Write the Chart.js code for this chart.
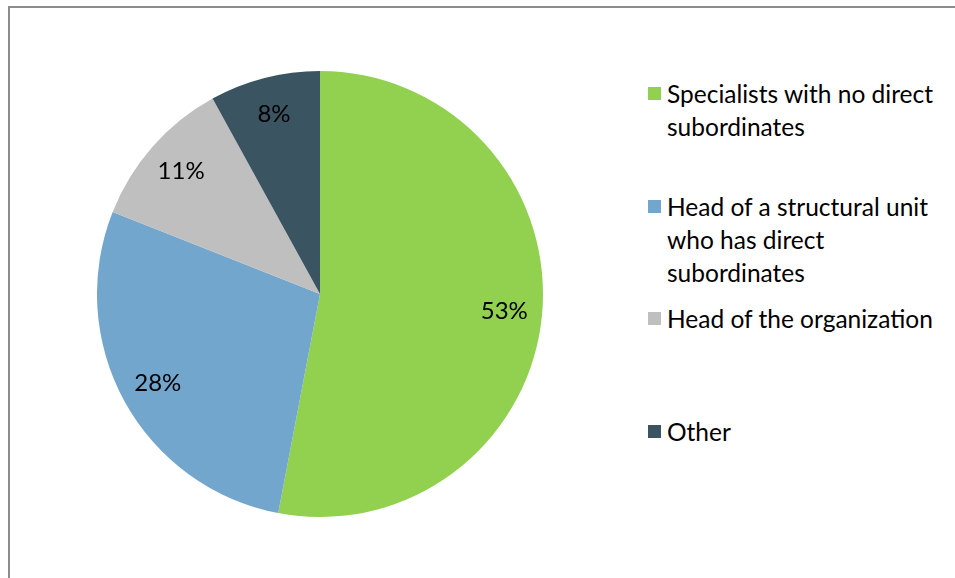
<!DOCTYPE html>
<html>
<head>
<meta charset="utf-8">
<script src="https://cdn.jsdelivr.net/npm/chart.js@4/dist/chart.umd.min.js"></script>
<style>
  body { margin: 0; background: #fff; width: 955px; height: 578px; overflow: hidden; position: relative; font-family: Lato, "Open Sans", sans-serif; }
  #frame { position: absolute; left: 8px; top: 6px; width: 1000px; height: 700px; border-top: 2px solid #8c8c8c; border-left: 2px solid #8c8c8c; }
  #pieBox { position: absolute; left: 97px; top: 71px; width: 446px; height: 446px; }
  #legend { position: absolute; left: 648px; top: 0; }
  .item { position: absolute; left: 0; width: 300px; font-size: 24.5px; line-height: 33px; color: #000; }
  .box { position: absolute; left: 0; top: 10px; width: 13px; height: 13px; }
  .txt { position: absolute; left: 19px; top: 0; width: 280px; }
</style>
</head>
<body>
<div id="frame"></div>
<div id="pieBox"><canvas id="myChart"></canvas></div>
<div id="legend"></div>
<script>
const labels = [
  "Specialists with no direct subordinates",
  "Head of a structural unit who has direct subordinates",
  "Head of the organization",
  "Other"
];
const values = [53, 28, 11, 8];
const colors = ["#92d050", "#72a6cd", "#bfbfbf", "#3a5461"];

// percentage labels inside the slices
const sliceLabels = {
  id: "sliceLabels",
  afterDatasetsDraw(chart) {
    const ctx = chart.ctx;
    const meta = chart.getDatasetMeta(0);
    ctx.save();
    ctx.font = "24px Lato";
    ctx.fillStyle = "#000";
    ctx.textAlign = "center";
    ctx.textBaseline = "middle";
    meta.data.forEach((arc, i) => {
      const p = arc.getProps(["x", "y", "startAngle", "endAngle", "outerRadius"], true);
      const mid = (p.startAngle + p.endAngle) / 2;
      const r = p.outerRadius * 0.83;
      ctx.fillText(values[i] + "%", p.x + Math.cos(mid) * r, p.y + Math.sin(mid) * r);
    });
    ctx.restore();
  }
};

const ctx = document.getElementById("myChart").getContext("2d");
const myChart = new Chart(ctx, {
  type: "pie",
  data: {
    labels: labels,
    datasets: [
      {
        data: values,
        backgroundColor: colors,
        borderWidth: 0,
      },
    ],
  },
  options: {
    responsive: true,
    maintainAspectRatio: false,
    animation: false,
    layout: { padding: 0 },
    plugins: {
      legend: { display: false },
      tooltip: { enabled: false },
    },
  },
  plugins: [sliceLabels],
});

// legend on the right
const legend = document.getElementById("legend");
labels.forEach((label, i) => {
  const item = document.createElement("div");
  item.className = "item";
  item.style.top = (77 + i * 112.7) + "px";
  item.innerHTML = `<span class="box" style="background:${colors[i]}"></span><span class="txt">${label}</span>`;
  legend.appendChild(item);
});
</script>
</body>
</html>
